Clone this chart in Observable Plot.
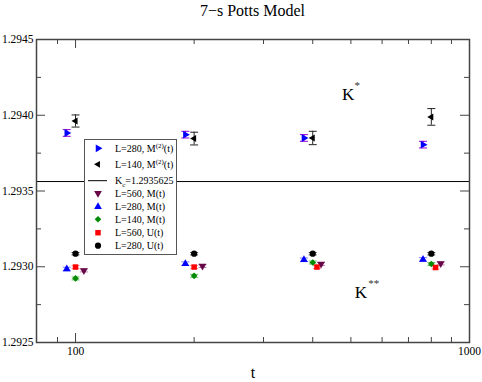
<!DOCTYPE html>
<html>
<head>
<meta charset="utf-8">
<script src="https://cdn.jsdelivr.net/npm/d3@7"></script>
<script src="https://cdn.jsdelivr.net/npm/@observablehq/plot@0.6"></script>
<style>
  body { margin: 0; background: #fff; }
  #wrap { width: 482px; height: 382px; position: relative; }
  #title { width: 482px; height: 22px; line-height: 22px; box-sizing: border-box; padding-left: 23px;
           text-align: center; font-family: "Liberation Serif", "Times New Roman", serif; font-size: 16px; color: #000; }
  svg { display: block; }
  svg text { font-family: "Liberation Serif", "Times New Roman", serif; }
</style>
</head>
<body>
<div id="wrap">
  <div id="title">7−s Potts Model</div>
  <div id="chart"></div>
</div>
<script>
// ---------- data ----------
const kc = 1.2935625;

const tM2L280 = [95, 190, 380, 762];
const vM2L280 = [1.293883, 1.293872, 1.293850, 1.293806];
const eM2L280 = [0.000022, 0.000022, 0.000022, 0.000022];

const tM2L140 = [100, 200, 400, 800];
const vM2L140 = [1.293962, 1.293846, 1.293850, 1.293989];
const eM2L140 = [0.000040, 0.000042, 0.000044, 0.000055];

const tML560 = [105, 210, 420, 845];
const vML560 = [1.292976, 1.293005, 1.293018, 1.293022];
const eML560 = [0.000010, 0.000010, 0.000010, 0.000010];

const tML280 = [95, 190, 380, 762];
const vML280 = [1.292985, 1.293020, 1.293046, 1.293048];
const eML280 = [0.000012, 0.000012, 0.000012, 0.000012];

const tML140 = [100, 200, 400, 800];
const vML140 = [1.292923, 1.292940, 1.293028, 1.293018];
const eML140 = [0.000010, 0.000010, 0.000010, 0.000010];

const tUL560 = [100, 200, 410, 820];
const vUL560 = [1.292998, 1.292998, 1.292998, 1.292995];
const eUL560 = [0.000010, 0.000010, 0.000010, 0.000010];

const tUL280 = [100, 200, 400, 800];
const vUL280 = [1.293086, 1.293086, 1.293086, 1.293086];
const eUL280 = [0.000008, 0.000008, 0.000008, 0.000008];

const xMajorTicks = [100, 1000];
const xMinorTicks = [90, 200, 300, 400, 500, 600, 700, 800, 900];
const yMajorTicks = [1.2925, 1.2930, 1.2935, 1.2940, 1.2945];
const yMinorTicks = [1.29275, 1.29325, 1.29375, 1.29425];
const yTickLabels = ["1.2925", "1.2930", "1.2935", "1.2940", "1.2945"];

const annoText = ["K", "K"];
const annoSup = ["*", "**"];
const annoT = [492, 530];
const annoV = [1.294135, 1.292828];
const annoSupDx = [9, 13];

const xLabel = "t";

const legendLabels = [
  ["L=280, M", "(2)", "(t)"],
  ["L=140, M", "(2)", "(t)"],
  ["K", "c", "=1.2935625"],
  ["L=560, M(t)"],
  ["L=280, M(t)"],
  ["L=140, M(t)"],
  ["L=560, U(t)"],
  ["L=280, U(t)"]
];

// ---------- build ----------
const serif = '"Liberation Serif", "Times New Roman", serif';
const W = 482, H = 360, mT = 17, mB = 40, mL = 36, mR = 13;
const plotH = H - mT - mB, plotW = W - mL - mR;
const frameColor = "#444";

function rows(ts, vs, es) { return ts.map((t, i) => ({t, v: vs[i], lo: vs[i] - es[i], hi: vs[i] + es[i]})); }

const series = [
  {d: rows(tM2L280, vM2L280, eM2L280), symbol: "triangle", rotate: 90, r: 2.9, fill: "#0000ff", err: "#9400d3"},
  {d: rows(tM2L140, vM2L140, eM2L140), symbol: "triangle", rotate: -90, r: 2.6, fill: "#000000", err: "#222"},
  {d: rows(tML560, vML560, eML560), symbol: "triangle", rotate: 180, r: 2.9, fill: "#670748", err: "#c080b0"},
  {d: rows(tML280, vML280, eML280), symbol: "triangle", rotate: 0, r: 2.9, fill: "#0000ff", err: "#8080ff"},
  {d: rows(tML140, vML140, eML140), symbol: "diamond2", rotate: 0, r: 3.0, fill: "#008b00", err: "#70c070"},
  {d: rows(tUL560, vUL560, eUL560), symbol: "square", rotate: 0, r: 3.1, fill: "#ff0000", err: "#ff9090"},
  {d: rows(tUL280, vUL280, eUL280), symbol: "circle", rotate: 0, r: 3.1, fill: "#000000", err: "#555"}
];

const cap = { draw(ctx) { ctx.moveTo(-4, 0); ctx.lineTo(4, 0); } };

const marks = [];
marks.push(Plot.ruleY([kc], {stroke: "#000", strokeWidth: 1}));
for (const s of series) {
  marks.push(Plot.ruleX(s.d, {x: "t", y1: "lo", y2: "hi", stroke: s.err, strokeWidth: 1}));
  marks.push(Plot.dot(s.d, {x: "t", y: "lo", symbol: cap, r: 3, stroke: s.err, strokeWidth: 1, fill: "none"}));
  marks.push(Plot.dot(s.d, {x: "t", y: "hi", symbol: cap, r: 3, stroke: s.err, strokeWidth: 1, fill: "none"}));
}
for (const s of series) {
  marks.push(Plot.dot(s.d, {x: "t", y: "v", symbol: s.symbol, rotate: s.rotate, r: s.r, fill: s.fill, stroke: "none"}));
}
const anno = annoText.map((k, i) => ({k, sup: annoSup[i], t: annoT[i], v: annoV[i], dx: annoSupDx[i]}));
marks.push(Plot.text(anno, {x: "t", y: "v", text: "k", fontSize: 17, fontFamily: serif, fill: "#000"}));
for (const a of anno) {
  marks.push(Plot.text([a], {x: "t", y: "v", text: "sup", fontSize: 11, fontFamily: serif, fill: "#333", dx: a.dx, dy: -9}));
}
marks.push(Plot.ruleX(xMajorTicks, {x: d => d, insetTop: plotH - 9, stroke: frameColor}));
marks.push(Plot.ruleX(xMajorTicks, {x: d => d, insetBottom: plotH - 9, stroke: frameColor}));
marks.push(Plot.ruleX(xMinorTicks, {x: d => d, insetTop: plotH - 5, stroke: frameColor}));
marks.push(Plot.ruleX(xMinorTicks, {x: d => d, insetBottom: plotH - 5, stroke: frameColor}));
marks.push(Plot.ruleY(yMajorTicks, {y: d => d, insetRight: plotW - 9, stroke: frameColor}));
marks.push(Plot.ruleY(yMajorTicks, {y: d => d, insetLeft: plotW - 9, stroke: frameColor}));
marks.push(Plot.ruleY(yMinorTicks, {y: d => d, insetRight: plotW - 5, stroke: frameColor}));
marks.push(Plot.ruleY(yMinorTicks, {y: d => d, insetLeft: plotW - 5, stroke: frameColor}));
marks.push(Plot.axisX({ticks: xMajorTicks, tickSize: 0, tickPadding: 4, tickFormat: d => String(d), fontSize: 11.5, fontFamily: serif, label: null}));
marks.push(Plot.axisY({ticks: yMajorTicks, tickSize: 0, tickPadding: 3, tickFormat: (d, i) => yTickLabels[i], fontSize: 11.5, fontFamily: serif, label: null}));
marks.push(Plot.text([xLabel], {frameAnchor: "bottom", dy: 35, fontSize: 16, fontFamily: serif, fill: "#000"}));
marks.push(Plot.frame({stroke: frameColor, strokeWidth: 1.5}));

const svg = Plot.plot({
  width: W, height: H,
  marginTop: mT, marginBottom: mB, marginLeft: mL, marginRight: mR,
  style: {fontFamily: serif, background: "#fff", color: "#000"},
  x: {type: "log", domain: [79.6, 1000]},
  y: {domain: [1.2925, 1.2945]},
  marks
});
document.getElementById("chart").appendChild(svg);
d3.select(svg).selectAll("text").style("font-family", serif).style("font-variant", "normal");

// ---------- legend (drawn on top, layout in pixels) ----------
const TOP = 22;
const lg = d3.select(svg).append("g").attr("font-family", serif).attr("font-size", 10).attr("text-anchor", "start");
lg.append("rect").attr("x", 84.5).attr("y", 139.5 - TOP).attr("width", 92).attr("height", 115)
  .attr("fill", "#fff").attr("stroke", "#555").attr("stroke-width", 1);
const rowY = [148.3, 164.3, 180.7, 193.3, 206.7, 219.3, 232.7, 245.7].map(y => y - TOP);
const symX = 98, txtX = 115;
const legSym = [
  {symbol: d3.symbolTriangle, rotate: 90, size: 26, fill: "#0000ff"},
  {symbol: d3.symbolTriangle, rotate: -90, size: 20, fill: "#000"},
  null,
  {symbol: d3.symbolTriangle, rotate: 180, size: 26, fill: "#670748"},
  {symbol: d3.symbolTriangle, rotate: 0, size: 26, fill: "#0000ff"},
  {symbol: d3.symbolDiamond2, rotate: 0, size: 28, fill: "#008b00"},
  {symbol: d3.symbolSquare, rotate: 0, size: 30, fill: "#ff0000"},
  {symbol: d3.symbolCircle, rotate: 0, size: 30, fill: "#000"}
];
legSym.forEach((s, i) => {
  if (!s) {
    lg.append("line").attr("x1", 88).attr("x2", 107).attr("y1", rowY[i]).attr("y2", rowY[i]).attr("stroke", "#000").attr("stroke-width", 1);
    return;
  }
  lg.append("path").attr("d", d3.symbol(s.symbol, s.size)())
    .attr("transform", `translate(${symX},${rowY[i]}) rotate(${s.rotate})`).attr("fill", s.fill);
});
legendLabels.forEach((parts, i) => {
  const t = lg.append("text").attr("x", txtX).attr("y", rowY[i]).attr("dy", "0.35em").attr("fill", "#000")
    .attr("text-anchor", "start").style("font-family", serif);
  t.append("tspan").text(parts[0]);
  if (parts.length > 1) {
    const isSub = parts[1] === "c";
    t.append("tspan").attr("font-size", 7).attr("dy", isSub ? "0.45em" : "-0.55em").text(parts[1]);
    t.append("tspan").attr("dy", isSub ? "-0.3em" : "0.38em").text(parts[2]);
  }
});
</script>
</body>
</html>
